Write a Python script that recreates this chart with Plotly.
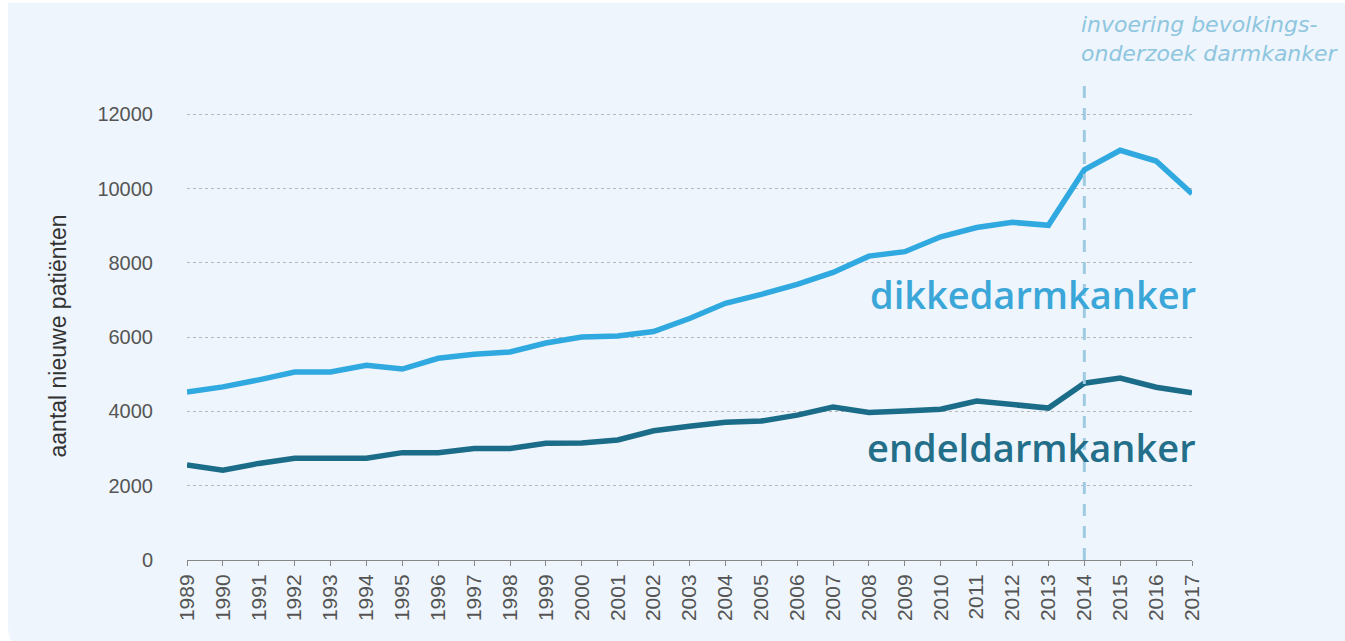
import plotly.graph_objects as go

# Jaarlijks aantal nieuwe patiënten met darmkanker, Nederland
years = list(range(1989, 2018))
dikkedarm = [4520, 4660, 4850, 5060, 5060, 5240, 5140, 5430, 5540, 5600, 5840, 6000,
             6030, 6150, 6500, 6910, 7150, 7420, 7740, 8180, 8300, 8700, 8950, 9090,
             9010, 10500, 11030, 10740, 9860]
endeldarm = [2560, 2420, 2600, 2740, 2740, 2740, 2890, 2890, 3000, 3000, 3140, 3150,
             3230, 3480, 3600, 3710, 3740, 3900, 4120, 3970, 4010, 4060, 4280, 4200,
             4090, 4760, 4900, 4650, 4500]
y_ticks = [0, 2000, 4000, 6000, 8000, 10000, 12000]
screening_year = 2014

light_blue = "#2fa9df"
dark_teal = "#1b6c88"
panel = "#eef5fc"

fig = go.Figure()
fig.add_trace(go.Scatter(x=years, y=dikkedarm, mode="lines",
                         line=dict(color=light_blue, width=5.5), name="dikkedarmkanker",
                         showlegend=False))
fig.add_trace(go.Scatter(x=years, y=endeldarm, mode="lines",
                         line=dict(color=dark_teal, width=5.5), name="endeldarmkanker",
                         showlegend=False))

# achtergrondpaneel met afgeronde hoek linksonder
fig.add_shape(type="path", xref="paper", yref="paper", layer="below",
              path="M -0.178,1.244 L 1.2,1.244 L 1.2,-0.2 L -0.155,-0.2 "
                   "Q -0.178,-0.2 -0.178,-0.15 Z",
              fillcolor=panel, line=dict(width=0))

# invoering bevolkingsonderzoek
fig.add_shape(type="line", xref="x", yref="paper", x0=screening_year, x1=screening_year,
              y0=0, y1=1.06, line=dict(color="#9fcbe2", width=3, dash="12px,10px"))
fig.add_annotation(x=screening_year, y=1.228, xref="x", yref="paper", xanchor="left",
                   yanchor="top", xshift=-5, showarrow=False, align="left",
                   text="<i>invoering bevolkings-<br>onderzoek darmkanker</i>",
                   font=dict(family="DejaVu Sans, sans-serif", size=22, color="#8ec6e0"))

fig.add_annotation(x=2017, y=7150, xref="x", yref="y", xanchor="right", yanchor="middle",
                   xshift=6, showarrow=False, text="dikkedarmkanker",
                   font=dict(family="Open Sans, sans-serif", size=38, weight=600,
                             color="#3ba6d8"))
fig.add_annotation(x=2017, y=3050, xref="x", yref="y", xanchor="right", yanchor="middle",
                   xshift=6, showarrow=False, text="endeldarmkanker",
                   font=dict(family="Open Sans, sans-serif", size=38, weight=600,
                             color="#236f8a"))

fig.update_layout(
    width=1345, height=641,
    margin=dict(l=187, r=153, t=112, b=81),
    paper_bgcolor="white", plot_bgcolor=panel,
    font=dict(family="Liberation Sans, Arial, sans-serif", color="#555555"),
)
fig.update_xaxes(range=[1989, 2017], tickmode="array", tickvals=years,
                 ticktext=[str(y) for y in years], tickangle=-90,
                 tickfont=dict(size=21, color="#555555"),
                 showgrid=False, zeroline=False, showline=True, linecolor="#888888",
                 linewidth=1, ticks="outside", ticklen=5, tickcolor="#888888")
fig.update_yaxes(range=[0, 12060], tickvals=y_ticks, ticktext=[str(v) for v in y_ticks],
                 tickfont=dict(size=20, color="#555555"), ticklabelstandoff=33,
                 showgrid=True, gridcolor="#b8b8b8", griddash="dot", gridwidth=1,
                 zeroline=False, showline=False,
                 title=dict(text="aantal nieuwe patiënten", standoff=24,
                            font=dict(size=23, color="#333333")))

fig.write_html("out.html")
